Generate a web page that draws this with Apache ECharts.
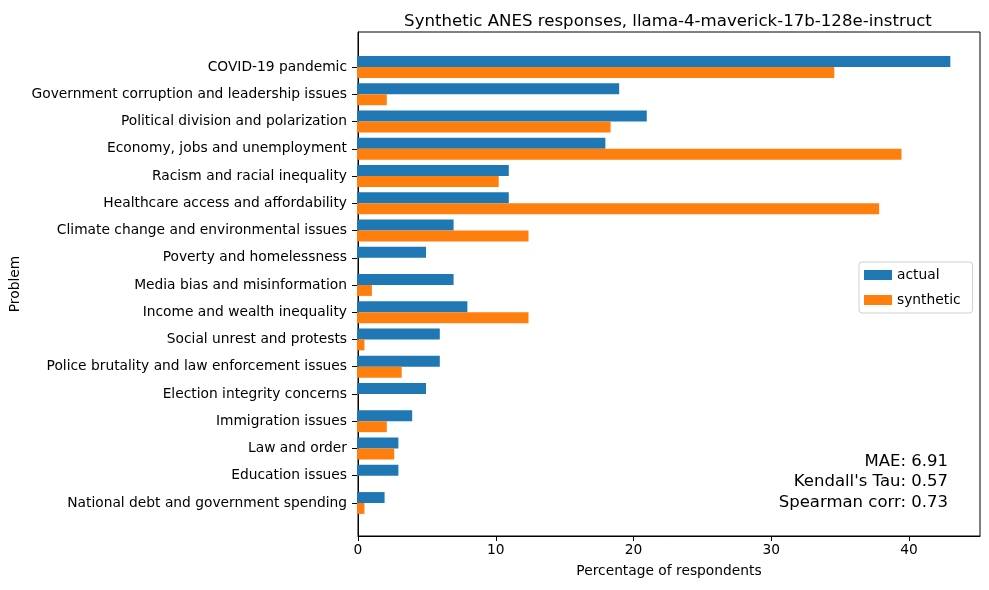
<!DOCTYPE html>
<html>
<head>
<meta charset="utf-8">
<script src="https://cdn.jsdelivr.net/npm/echarts@6/dist/echarts.min.js"></script>
<style>
  html, body { margin: 0; padding: 0; background: #fff; }
  #main { width: 989px; height: 590px; }
</style>
</head>
<body>
<div id="main"></div>
<script>
// categories, top to bottom
var problems = [
  'COVID-19 pandemic',
  'Government corruption and leadership issues',
  'Political division and polarization',
  'Economy, jobs and unemployment',
  'Racism and racial inequality',
  'Healthcare access and affordability',
  'Climate change and environmental issues',
  'Poverty and homelessness',
  'Media bias and misinformation',
  'Income and wealth inequality',
  'Social unrest and protests',
  'Police brutality and law enforcement issues',
  'Election integrity concerns',
  'Immigration issues',
  'Law and order',
  'Education issues',
  'National debt and government spending'
];
var actual = [43, 19, 21, 18, 11, 11, 7, 5, 7, 8, 6, 6, 5, 4, 3, 3, 2];
var synthetic = [34.59, 2.16, 18.38, 39.46, 10.27, 37.84, 12.43, 0, 1.08, 12.43, 0.54, 3.24, 0, 2.16, 2.70, 0, 0.54];
var xTicks = [0, 10, 20, 30, 40];
var metrics = ['MAE: 6.91', "Kendall's Tau: 0.57", 'Spearman corr: 0.73'];

var font = 'DejaVu Sans';
var xMax = 45.15;

var chart = echarts.init(document.getElementById('main'));
var option = {
  animation: false,
  textStyle: { fontFamily: font },
  title: {
    text: 'Synthetic ANES responses, llama-4-maverick-17b-128e-instruct',
    left: 663, top: 8,
    textAlign: 'center',
    textStyle: { fontFamily: font, fontSize: 16.6, fontWeight: 'normal', color: '#000' }
  },
  legend: {
    data: ['actual', 'synthetic'],
    orient: 'vertical',
    left: 859, top: 262,
    itemWidth: 28, itemHeight: 10, itemGap: 11,
    padding: [6, 12, 6, 5],
    borderColor: '#d0d0d0', borderWidth: 1, borderRadius: 3,
    backgroundColor: '#fff',
    icon: 'rect',
    textStyle: { fontFamily: font, fontSize: 13.8, color: '#000' }
  },
  grid: [
    // frame grid (spines, x ticks)
    { left: 357, right: 9, top: 32, bottom: 54, show: true, borderColor: '#000', borderWidth: 1, backgroundColor: 'transparent' },
    // bar grid, inset like matplotlib margins
    { left: 357, right: 9, top: 53.4, bottom: 73.4 }
  ],
  xAxis: [
    {
      gridIndex: 0, type: 'value', min: 0, max: xMax, interval: 10,
      name: 'Percentage of respondents', nameLocation: 'middle', nameGap: 28,
      nameTextStyle: { fontFamily: font, fontSize: 13.8, color: '#000' },
      axisLine: { show: true, lineStyle: { color: '#000' } },
      axisTick: { show: true, length: 5, lineStyle: { color: '#000' } },
      axisLabel: {
        fontFamily: font, fontSize: 13.8, color: '#000', margin: 7, showMaxLabel: false,
        formatter: function (v) { return xTicks.indexOf(v) >= 0 ? String(v) : ''; }
      },
      splitLine: { show: false }
    },
    {
      gridIndex: 1, type: 'value', min: 0, max: xMax, show: false, splitLine: { show: false }
    }
  ],
  yAxis: [
    {
      gridIndex: 0, type: 'value', min: 0, max: 1, show: true,
      name: 'Problem', nameLocation: 'middle', nameGap: 336, nameRotate: 90,
      nameTextStyle: { fontFamily: font, fontSize: 13.8, color: '#000' },
      axisLine: { show: true, lineStyle: { color: '#000' } },
      axisTick: { show: false }, axisLabel: { show: false }, splitLine: { show: false }
    },
    {
      gridIndex: 1, type: 'category', data: problems, inverse: true,
      axisLine: { show: false },
      axisTick: { show: true, alignWithLabel: true, length: 5, lineStyle: { color: '#000' } },
      axisLabel: { fontFamily: font, fontSize: 13.8, color: '#000', margin: 10 },
      splitLine: { show: false }
    }
  ],
  series: [
    {
      name: 'actual', type: 'bar', xAxisIndex: 1, yAxisIndex: 1,
      data: actual, barWidth: '40%', barGap: '0%',
      itemStyle: { color: '#1f77b4' }
    },
    {
      name: 'synthetic', type: 'bar', xAxisIndex: 1, yAxisIndex: 1,
      data: synthetic, barWidth: '40%', barGap: '0%',
      itemStyle: { color: '#ff7f0e' }
    }
  ],
  graphic: [{
    type: 'text',
    x: 948, y: 451,
    style: {
      text: metrics.join('\n'),
      fontFamily: font, fontSize: 16.5, lineHeight: 20.5,
      fill: '#000', align: 'right', verticalAlign: 'top'
    }
  }]
};
chart.setOption(option);
</script>
</body>
</html>
